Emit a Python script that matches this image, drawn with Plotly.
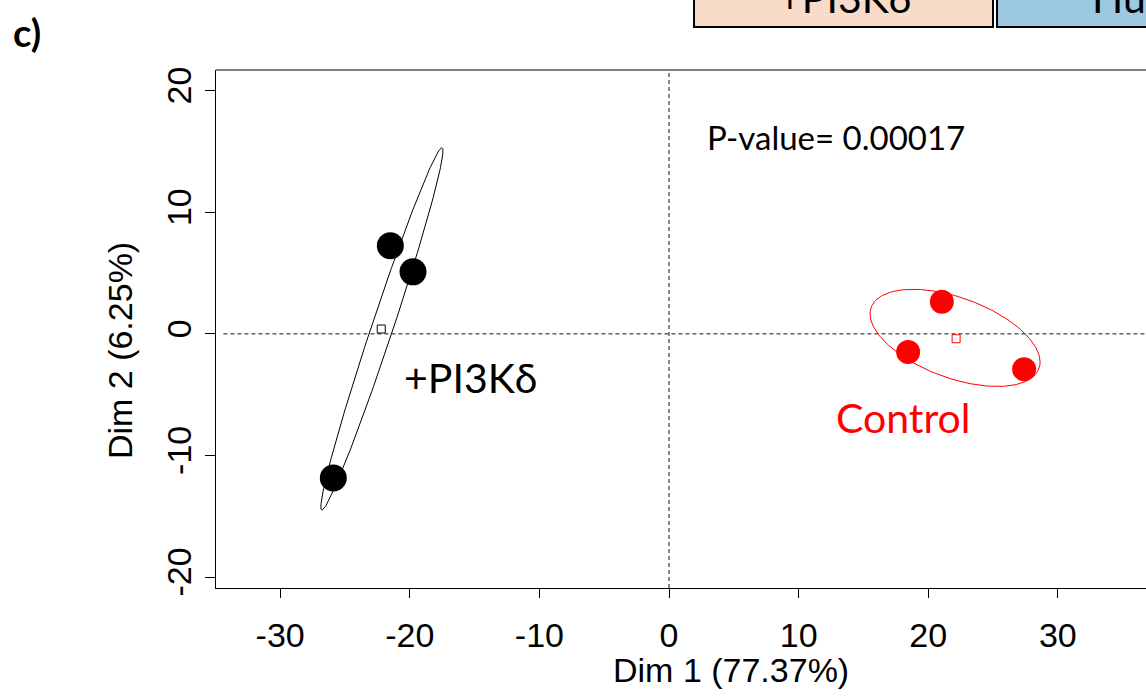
import numpy as np
import plotly.graph_objects as go

# ---------------- data ----------------
pi3k_x = [-21.5, -19.75, -25.9]
pi3k_y = [7.25, 5.1, -11.85]
ctrl_x = [21.05, 18.45, 27.4]
ctrl_y = [2.65, -1.5, -2.9]

pi3k_center = [-22.2, 0.4]
ctrl_center = [22.15, -0.4]

# ellipse parameters: centre, major semi-axis vector, conjugate semi-axis vector
pi3k_ell_center = [-22.15, 0.41]
pi3k_ell_major = [4.63, 14.9]
pi3k_ell_conj = [0.87, 0.0]
ctrl_ell_center = [22.07, -0.33]
ctrl_ell_major = [6.56, -1.98]
ctrl_ell_conj = [0.0, 3.47]

x_ticks = [-30, -20, -10, 0, 10, 20, 30]
x_tick_text = ["-30", "-20", "-10", "0", "10", "20", "30"]
y_ticks = [-20, -10, 0, 10, 20]
y_tick_text = ["-20", "-10", "0", "10", "20"]
ref_lines = [0]

x_title = "Dim 1 (77.37%)"
y_title = "Dim 2 (6.25%)"
p_text = "P-value= 0.00017"
pi3k_label = "+PI3Kδ"
ctrl_label = "Control"
panel_label = "c)"
header_labels = ["+PI3Kδ", "Hu"]

AX_FONT = "Liberation Sans, Arial, sans-serif"
CAL_FONT = "Lato, Carlito, Calibri, sans-serif"


def ellipse(center, major, conj, n=200):
    t = np.linspace(0, 2 * np.pi, n)
    x = center[0] + np.cos(t) * major[0] + np.sin(t) * conj[0]
    y = center[1] + np.cos(t) * major[1] + np.sin(t) * conj[1]
    return x, y


fig = go.Figure()

ex, ey = ellipse(pi3k_ell_center, pi3k_ell_major, pi3k_ell_conj)
fig.add_trace(go.Scatter(x=ex, y=ey, mode="lines", line=dict(color="black", width=1), hoverinfo="skip"))
ex, ey = ellipse(ctrl_ell_center, ctrl_ell_major, ctrl_ell_conj)
fig.add_trace(go.Scatter(x=ex, y=ey, mode="lines", line=dict(color="red", width=1), hoverinfo="skip"))

fig.add_trace(go.Scatter(x=pi3k_x, y=pi3k_y, mode="markers",
                         marker=dict(color="black", size=27, line=dict(width=0))))
fig.add_trace(go.Scatter(x=ctrl_x, y=ctrl_y, mode="markers",
                         marker=dict(color="red", size=24, line=dict(width=0))))
fig.add_trace(go.Scatter(x=[pi3k_center[0]], y=[pi3k_center[1]], mode="markers",
                         marker=dict(symbol="square-open", color="black", size=8, line=dict(width=1))))
fig.add_trace(go.Scatter(x=[ctrl_center[0]], y=[ctrl_center[1]], mode="markers",
                         marker=dict(symbol="square-open", color="red", size=8, line=dict(width=1))))

shapes = []
for v in ref_lines:
    shapes.append(dict(type="line", xref="x", yref="paper", x0=v, x1=v, y0=0, y1=1,
                       line=dict(color="#111", width=1, dash="4px,3px"), layer="below"))
    shapes.append(dict(type="line", xref="paper", yref="y", x0=0.008, x1=1, y0=v, y1=v,
                       line=dict(color="#111", width=1, dash="4px,3px"), layer="below"))
# top border of the box
shapes.append(dict(type="line", xref="paper", yref="paper", x0=0, x1=1.02, y0=1, y1=1,
                   line=dict(color="black", width=1)))
# header boxes (cropped at the top)
shapes.append(dict(type="rect", xref="paper", yref="paper", x0=0.514, x1=0.8355, y0=1.083, y1=1.2,
                   fillcolor="#F9DBCA", line=dict(color="black", width=2)))
shapes.append(dict(type="rect", xref="paper", yref="paper", x0=0.8398, x1=1.05, y0=1.083, y1=1.2,
                   fillcolor="#9CC8E0", line=dict(color="black", width=2)))


def ann(x, y, text, size, color="black", family=CAL_FONT, xref="paper", yref="paper", **kw):
    d = dict(x=x, y=y, xref=xref, yref=yref, text=text, showarrow=False,
             xanchor="center", yanchor="middle",
             font=dict(family=family, size=size, color=color))
    d.update(kw)
    return d


annotations = [
    ann(12.9, 16.2, p_text, 33, xref="x", yref="y"),
    ann(-15.3, -3.6, pi3k_label, 41, xref="x", yref="y"),
    ann(18.06, -6.9, ctrl_label, 41, color="red", xref="x", yref="y"),
    ann(0.554, -0.158, x_title, 34, family=AX_FONT),
    ann(-0.103, -1.4, y_title, 34, family=AX_FONT, yref="y", textangle=-90),
    ann(-0.203, 1.073, "<b>" + panel_label + "</b>", 38),
    ann(0.676, 1.14, header_labels[0], 41),
    ann(0.94, 1.14, header_labels[1], 41, xanchor="left"),
]

fig.update_layout(
    width=1146, height=698,
    margin=dict(l=216, r=0, t=70, b=110),
    paper_bgcolor="white", plot_bgcolor="white",
    showlegend=False,
    shapes=shapes, annotations=annotations,
    xaxis=dict(range=[-34.95, 36.8], tickvals=x_ticks, ticktext=x_tick_text, showgrid=False,
               zeroline=False, showline=True, linecolor="black", linewidth=1, ticks="outside",
               ticklen=9, tickcolor="black", ticklabelstandoff=8,
               tickfont=dict(family=AX_FONT, size=34, color="black")),
    yaxis=dict(range=[-20.9, 21.7], tickvals=y_ticks, ticktext=y_tick_text, showgrid=False,
               zeroline=False, showline=True, linecolor="black", linewidth=1, ticks="outside",
               ticklen=10, tickcolor="black", tickangle=-90,
               tickfont=dict(family=AX_FONT, size=34, color="black")),
)

fig.write_html("out.html", post_script="document.body.style.margin='0';",
               config={"displayModeBar": False})
